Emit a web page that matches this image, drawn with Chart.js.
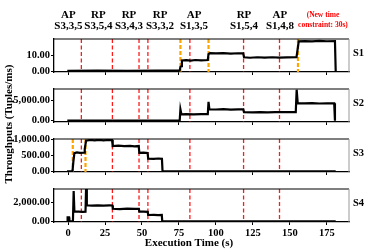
<!DOCTYPE html>
<html>
<head>
<meta charset="utf-8">
<script src="https://cdn.jsdelivr.net/npm/chart.js@4/dist/chart.umd.min.js"></script>
<style>
  body { margin: 0; background: #fff; width: 374px; height: 249px; position: relative; overflow: hidden; }
  canvas { position: absolute; left: 0; }
  #ytitle {
    position: absolute; left: -71px; top: 117px; width: 160px; height: 14px; line-height: 14px;
    text-align: center; transform: rotate(-90deg); transform-origin: center;
    font: bold 11px "Liberation Serif", serif; color: #000; white-space: nowrap;
  }
</style>
</head>
<body>
<canvas id="c1" width="374" height="80" style="top:0px"></canvas>
<canvas id="c2" width="374" height="50" style="top:80px"></canvas>
<canvas id="c3" width="374" height="50" style="top:130px"></canvas>
<canvas id="c4" width="374" height="69" style="top:180px"></canvas>
<div id="ytitle">Throughputs (Tuples/ms)</div>
<script>
const xTicks = [0, 25, 50, 75, 100, 125, 150, 175];
const redLines = [9, 30, 48, 54, 82.4, 118.7, 143];
const orangeS1 = [76, 95, 155.5];
const orangeS3 = [3.2, 11.8];

const topLabelTimes = [0.2, 20.5, 41.2, 62.2, 85.2, 119, 143.3];
const topLabelKinds = ['AP', 'RP', 'RP', 'RP', 'AP', 'RP', 'AP'];
const topLabelNames = ['S3,3,5', 'S3,5,4', 'S3,4,3', 'S3,3,2', 'S1,3,5', 'S1,5,4', 'S1,4,8'];
const noteTime = 172.4;
const noteLines = ['(New time', 'constraint: 30s)'];

// S1 throughput
const s1Time = [-0.5, 20, 40, 60, 75.5, 76, 76.5, 77, 80, 83, 86, 90, 94.5, 95, 96, 100, 105, 110, 115, 118.5,
  119, 123, 128, 133, 138, 143, 148, 154.5, 155, 156, 160, 165, 170, 175, 180.5, 181];
const s1Vals = [0.1, 0.2, 0.1, 0.2, 0.2, 2.5, 3, 6.6, 6.8, 6.5, 6.9, 6.7, 6.9, 10.5, 11.2, 11, 11.2, 10.9, 11.1, 11,
  8.6, 8.3, 8.6, 8.4, 8.6, 8.4, 8.5, 8.6, 12, 18.5, 18.7, 18.5, 18.8, 18.6, 18.7, 0];

// S2 throughput
const s2Time = [-0.5, 20, 40, 60, 75.5, 76, 76.7, 80, 85, 90, 94.5, 95, 95.6, 100, 105, 110, 115, 118.5,
  119, 125, 130, 135, 140, 145, 150, 154, 154.6, 155.3, 160, 165, 170, 175, 180, 180.5];
const s2Vals = [0, 30, 20, 30, 20, 2800, 1550, 1620, 1560, 1630, 1590, 4600, 2800, 2750, 2820, 2730, 2790, 2760,
  2100, 2050, 2120, 2060, 2100, 2080, 2120, 2100, 7600, 4300, 4250, 4300, 4220, 4280, 4250, 0];

// S3 throughput
const s3Time = [-0.7, 3, 3.6, 4.3, 6, 8, 10.8, 11.3, 12.2, 15, 18, 21, 24, 27, 29.8, 30.2, 34, 38, 42, 45, 47.8,
  48.2, 51, 53.8, 54.2, 58, 61, 63.5, 63.9, 181];
const s3Vals = [0, 0, 300, 570, 590, 575, 585, 700, 960, 980, 970, 985, 965, 980, 975, 790, 800, 785, 795, 780, 790,
  580, 585, 575, 395, 390, 400, 390, 0, 0];

// S4 throughput
const s4Time = [-0.5, -0.3, 0.7, 0.9, 3.3, 3.8, 4.3, 7, 10, 11.8, 12.2, 12.7, 16, 20, 24, 28, 30, 30.3, 35, 40, 45,
  47.9, 48.2, 51, 53.9, 54.2, 58, 61, 63.4, 63.7, 181];
const s4Vals = [0, 420, 420, 0, 0, 3250, 1030, 1050, 1020, 1040, 3600, 1720, 1680, 1720, 1690, 1710, 1700, 1350, 1320, 1360, 1330,
  1340, 1030, 1040, 1020, 680, 700, 670, 690, 0, 0];

const serif = 'Liberation Serif';

const panelDeco = {
  id: 'panelDeco',
  beforeDatasetsDraw(chart, args, opts) {
    const { ctx, chartArea: a, scales: { x } } = chart;
    ctx.save();
    const vline = (t, color, w, dash) => {
      const px = x.getPixelForValue(t);
      ctx.strokeStyle = color;
      ctx.lineWidth = w;
      ctx.setLineDash(dash);
      ctx.beginPath();
      ctx.moveTo(px, a.top);
      ctx.lineTo(px, a.bottom);
      ctx.stroke();
    };
    redLines.forEach(t => vline(t, '#ff1a1a', 1.3, [4, 2.5]));
    opts.orange.forEach(t => vline(t, '#ffa500', 2.2, [4, 2]));
    ctx.restore();
  },
  afterDraw(chart, args, opts) {
    const { ctx, chartArea: a, scales: { x } } = chart;
    ctx.save();
    // top and right frame
    ctx.strokeStyle = '#000';
    ctx.lineWidth = 1.2;
    ctx.beginPath();
    ctx.moveTo(a.left, a.top);
    ctx.lineTo(a.right, a.top);
    ctx.stroke();
    ctx.strokeStyle = '#999';
    ctx.lineWidth = 1;
    ctx.beginPath();
    ctx.moveTo(a.right, a.top);
    ctx.lineTo(a.right, a.bottom);
    ctx.stroke();

    ctx.fillStyle = '#000';
    ctx.font = `bold 10.5px "${serif}"`;
    ctx.textAlign = 'left';
    ctx.textBaseline = 'middle';
    ctx.fillText(opts.name, a.right + 4, (a.top + a.bottom) / 2 - 2);

    if (opts.topLabels) {
      ctx.font = `bold 11px "${serif}"`;
      ctx.textAlign = 'center';
      topLabelTimes.forEach((t, i) => {
        const px = x.getPixelForValue(t);
        ctx.fillText(topLabelKinds[i], px, 15);
        ctx.fillText(topLabelNames[i], px, 26);
      });
      ctx.fillStyle = '#ff0000';
      ctx.font = `bold 7.5px "${serif}"`;
      const npx = x.getPixelForValue(noteTime);
      ctx.fillText(noteLines[0], npx, 15);
      ctx.fillText(noteLines[1], npx, 25);
    }
    if (opts.xTitle) {
      ctx.fillStyle = '#000';
      ctx.font = `bold 11px "${serif}"`;
      ctx.textAlign = 'center';
      ctx.fillText('Execution Time (s)', 189, chart.height - 6);
    }
    ctx.restore();
  }
};

const panels = [
  { id: 'c1', name: 'S1', time: s1Time, vals: s1Vals, yMin: -0.6, yMax: 20, yTicks: [0, 10], orange: orangeS1, padTop: 39, xHeight: 8, showX: false, topLabels: true },
  { id: 'c2', name: 'S2', time: s2Time, vals: s2Vals, yMin: -320, yMax: 7770, yTicks: [0, 5000], orange: [], padTop: 9, xHeight: 8, showX: false },
  { id: 'c3', name: 'S3', time: s3Time, vals: s3Vals, yMin: -22, yMax: 1010, yTicks: [0, 500, 1000], orange: orangeS3, padTop: 9, xHeight: 8, showX: false },
  { id: 'c4', name: 'S4', time: s4Time, vals: s4Vals, yMin: -75, yMax: 3473, yTicks: [0, 2000], orange: [], padTop: 9, xHeight: 27, showX: true, xTitle: true }
];

const tickFont = { family: serif, size: 10.5, weight: 'bold' };

panels.forEach(p => {
  new Chart(document.getElementById(p.id), {
    type: 'line',
    data: {
      datasets: [{
        data: p.time.map((t, i) => ({ x: t, y: p.vals[i] })),
        borderColor: '#000',
        borderWidth: 2.2,
        pointRadius: 0,
        tension: 0,
        fill: false
      }]
    },
    options: {
      responsive: false,
      animation: false,
      layout: { padding: { top: p.padTop, right: 25, bottom: 0, left: 0 } },
      plugins: {
        legend: { display: false },
        tooltip: { enabled: false },
        panelDeco: { name: p.name, orange: p.orange, topLabels: !!p.topLabels, xTitle: !!p.xTitle }
      },
      scales: {
        x: {
          type: 'linear',
          min: -9.5,
          max: 190,
          afterBuildTicks: s => { s.ticks = xTicks.map(v => ({ value: v })); },
          afterFit: s => { s.height = p.xHeight; },
          grid: { drawOnChartArea: false, drawTicks: true, tickLength: 3, color: '#000', lineWidth: 1 },
          border: { color: '#000', width: 1.3 },
          ticks: { display: p.showX, padding: 2, maxRotation: 0, autoSkip: false, color: '#000', font: tickFont }
        },
        y: {
          min: p.yMin,
          max: p.yMax,
          afterBuildTicks: s => { s.ticks = p.yTicks.map(v => ({ value: v })); },
          afterFit: s => { s.width = 54; },
          grid: { drawOnChartArea: false, drawTicks: true, tickLength: 3, color: '#000', lineWidth: 1 },
          border: { color: '#000', width: 1.3 },
          ticks: {
            padding: 1, color: '#000', font: tickFont,
            callback: v => v.toLocaleString('en-US', { minimumFractionDigits: 2, maximumFractionDigits: 2 })
          }
        }
      }
    },
    plugins: [panelDeco]
  });
});
</script>
</body>
</html>
